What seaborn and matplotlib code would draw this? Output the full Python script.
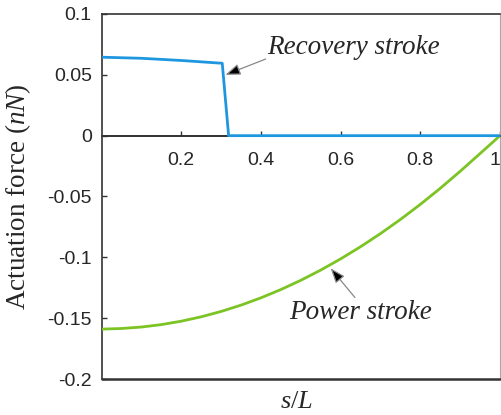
import matplotlib
matplotlib.use("Agg")
import matplotlib.pyplot as plt
import seaborn as sns
import pandas as pd

# Recovery stroke: actuation force along the filament (s/L)
s_recovery = [0.0, 0.1, 0.2, 0.303, 0.319, 1.0]
f_recovery = [0.0645, 0.0636, 0.0618, 0.0595, 0.0, 0.0]

# Power stroke
s_power = [0.00, 0.05, 0.10, 0.15, 0.20, 0.25, 0.30, 0.35, 0.40, 0.45, 0.50,
           0.55, 0.60, 0.65, 0.70, 0.75, 0.80, 0.85, 0.90, 0.95, 1.00]
f_power = [-0.1590, -0.1585, -0.1573, -0.1553, -0.1525, -0.1489, -0.1445,
           -0.1393, -0.1333, -0.1265, -0.1189, -0.1105, -0.1013, -0.0913,
           -0.0805, -0.0689, -0.0565, -0.0433, -0.0293, -0.0147, 0.0000]

x_ticks = [0.2, 0.4, 0.6, 0.8, 1.0]
x_tick_labels = ["0.2", "0.4", "0.6", "0.8", "1"]
y_ticks = [0.1, 0.05, 0.0, -0.05, -0.1, -0.15, -0.2]
y_tick_labels = ["0.1", "0.05", "0", "-0.05", "-0.1", "-0.15", "-0.2"]

sns.set_style("white")
plt.rcParams["font.family"] = ["Liberation Sans", "DejaVu Sans"]
plt.rcParams["mathtext.fontset"] = "custom"
plt.rcParams["mathtext.rm"] = "Liberation Serif"
plt.rcParams["mathtext.it"] = "Liberation Serif:italic"
plt.rcParams["axes.unicode_minus"] = False

fig = plt.figure(figsize=(5.01, 4.15), dpi=100)
ax = fig.add_axes([101.5 / 501, 1 - 379 / 415, (500 - 101.5) / 501, (379 - 14) / 415])

rec = pd.DataFrame({"s": s_recovery, "f": f_recovery})
pwr = pd.DataFrame({"s": s_power, "f": f_power})

sns.lineplot(data=pwr, x="s", y="f", ax=ax, color="#7cc424", lw=2.0,
             estimator=None, sort=False, zorder=3)
ax.axhline(0.0, color="#222222", lw=1.2, zorder=2)
sns.lineplot(data=rec, x="s", y="f", ax=ax, color="#1f97e0", lw=2.0,
             estimator=None, sort=False, zorder=4)

ax.set_xlim(0, 1)
ax.set_ylim(-0.2, 0.1)

# Frame: x axis runs through zero, box drawn around the plot
for side in ["left", "top", "bottom"]:
    ax.spines[side].set_color("#333333")
    ax.spines[side].set_linewidth(1.2)
ax.spines["right"].set_color("#aaaaaa")
ax.spines["right"].set_linewidth(0.8)
ax.spines["bottom"].set_position(("data", 0.0))
ax.axhline(-0.2, color="#333333", lw=1.8, clip_on=False, zorder=5)

ax.set_xticks(x_ticks)
ax.set_xticklabels(x_tick_labels)
ax.set_yticks(y_ticks)
ax.set_yticklabels(y_tick_labels)
ax.tick_params(axis="x", direction="in", length=3.5, width=1, color="#333333",
               pad=12, labelsize=14, bottom=True, top=False)
ax.tick_params(axis="y", direction="in", length=3.5, width=1, color="#333333",
               pad=7, labelsize=14, left=True, right=False)
ax.get_xticklabels()[-1].set_ha("right")

ax.set_xlabel("$s/L$", fontsize=19)
ax.xaxis.set_label_coords(0.49, -0.028)
ax.set_ylabel("Actuation force ($nN$)", fontsize=19.5,
              family="Liberation Serif")
ax.yaxis.set_label_coords(-0.172, 0.5)

arrow_kw = dict(arrowstyle="-|>,head_length=0.45,head_width=0.17",
                ec="#888888", fc="black", lw=0.9, shrinkA=0, shrinkB=0,
                mutation_scale=20)
ax.annotate("", xy=(0.311, 0.050), xytext=(0.412, 0.063),
            textcoords="data", arrowprops=arrow_kw)
ax.annotate("", xy=(0.575, -0.109), xytext=(0.636, -0.133),
            textcoords="data", arrowprops=arrow_kw)
ax.text(0.415, 0.0728, "Recovery stroke", fontsize=19.5, style="italic",
        family="Liberation Serif", va="center", ha="left")
ax.text(0.65, -0.1455, "Power stroke", fontsize=19.5, style="italic",
        family="Liberation Serif", va="center", ha="center")

fig.savefig("out.png", dpi=100)
